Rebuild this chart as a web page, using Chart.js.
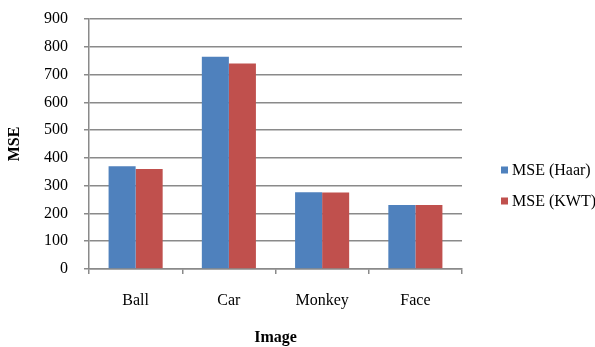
<!DOCTYPE html>
<html>
<head>
<meta charset="utf-8">
<script src="https://cdn.jsdelivr.net/npm/chart.js@4/dist/chart.umd.min.js"></script>
<style>
  html, body { margin: 0; padding: 0; background: #fff; }
  #wrap { width: 595px; height: 347px; position: relative; }
</style>
</head>
<body>
<div id="wrap"><canvas id="c" width="595" height="347"></canvas></div>
<script>
// Categories and MSE values per wavelet method
const images = ['Ball', 'Car', 'Monkey', 'Face'];
const mseHaar = [370, 764, 276, 230];
const mseKwt = [360, 740, 275, 230];
const yTicks = [0, 100, 200, 300, 400, 500, 600, 700, 800, 900];

const serif = '"Liberation Serif", "Times New Roman", serif';
const axisGrey = '#8a8a8a';

// Compact side legend: small square swatch, tight gap, labels from the datasets
const sideLegend = {
  id: 'sideLegend',
  afterDraw(chart) {
    const ctx = chart.ctx;
    const x0 = chart.chartArea.right + 39;
    const y0 = 170;
    const step = 31;
    ctx.save();
    ctx.font = '16px ' + serif;
    ctx.textBaseline = 'middle';
    ctx.textAlign = 'left';
    chart.data.datasets.forEach((ds, i) => {
      const cy = y0 + i * step;
      ctx.fillStyle = ds.backgroundColor;
      ctx.fillRect(x0, cy - 3.5, 7, 7);
      ctx.fillStyle = '#000';
      ctx.fillText(ds.label, x0 + 11, cy + 1);
    });
    ctx.restore();
  }
};

new Chart(document.getElementById('c'), {
  type: 'bar',
  data: {
    labels: images,
    datasets: [
      { label: 'MSE (Haar)', data: mseHaar, backgroundColor: '#4f81bd', borderWidth: 0 },
      { label: 'MSE (KWT)', data: mseKwt, backgroundColor: '#c0504d', borderWidth: 0 }
    ]
  },
  plugins: [sideLegend],
  options: {
    responsive: false,
    animation: false,
    devicePixelRatio: 1,
    layout: { padding: { top: 19, right: 133, bottom: 0, left: 0 } },
    datasets: { bar: { categoryPercentage: 0.58, barPercentage: 1.0 } },
    plugins: {
      tooltip: { enabled: false },
      legend: { display: false }
    },
    scales: {
      x: {
        offset: true,
        afterFit: (s) => { s.height = 78; },
        grid: {
          offset: true,
          drawOnChartArea: false,
          drawTicks: true,
          tickLength: 5,
          color: axisGrey,
          lineWidth: 1.5
        },
        border: { color: axisGrey, width: 1.5 },
        ticks: { color: '#000', font: { family: serif, size: 16 }, padding: 17 },
        title: { display: true, text: 'Image', color: '#000', font: { family: serif, size: 16, weight: 'bold' }, padding: { top: 16, bottom: 0 } }
      },
      y: {
        min: 0,
        max: 900,
        afterFit: (s) => {
          s.width = 89;
          // keep the wide label gap from pushing the plot top down
          s.paddingTop = 9;
          s.paddingBottom = 9;
        },
        afterBuildTicks: (axis) => { axis.ticks = yTicks.map(v => ({ value: v })); },
        grid: { color: axisGrey, lineWidth: 1.5, tickLength: 5 },
        border: { color: axisGrey, width: 1.5 },
        ticks: { color: '#000', font: { family: serif, size: 16 }, padding: 16 },
        title: { display: true, text: 'MSE', color: '#000', font: { family: serif, size: 16, weight: 'bold' }, padding: { top: 5, bottom: 6 } }
      }
    }
  }
});
</script>
</body>
</html>
